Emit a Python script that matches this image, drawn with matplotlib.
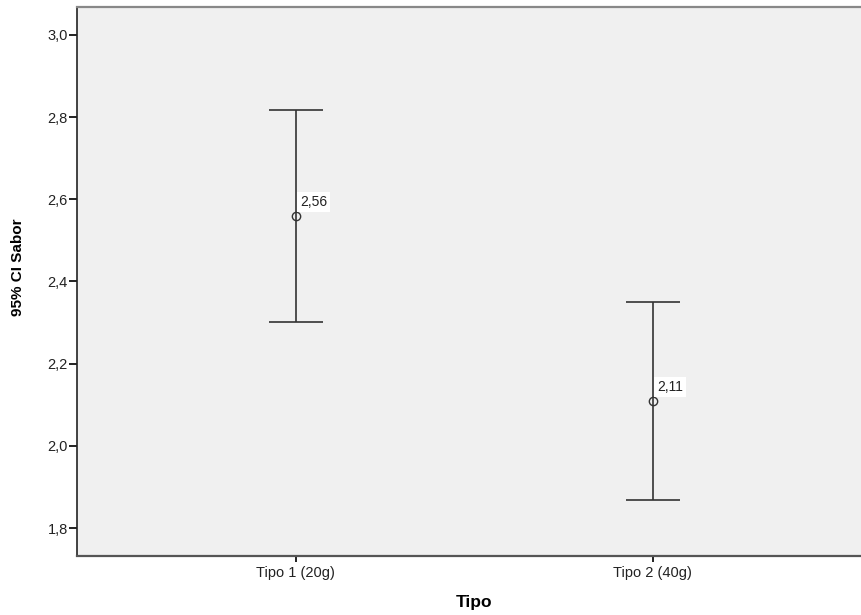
import matplotlib
matplotlib.use("Agg")
import matplotlib.pyplot as plt

plt.rcParams["font.family"] = ["Liberation Sans", "DejaVu Sans"]

categories = ["Tipo 1 (20g)", "Tipo 2 (40g)"]
means = [2.56, 2.11]
lower = [2.301, 1.868]
upper = [2.817, 2.350]
mean_labels = ["2,56", "2,11"]
yticks = [1.8, 2.0, 2.2, 2.4, 2.6, 2.8, 3.0]
ytick_labels = ["1,8", "2,0", "2,2", "2,4", "2,6", "2,8", "3,0"]

fig = plt.figure(figsize=(8.61, 6.15), dpi=100)
ax = fig.add_axes([77/861, 59/615, 784/861, 549/615])
ax.set_facecolor("#f0f0f0")

x = list(range(len(categories)))
err = [[m - l for m, l in zip(means, lower)], [u - m for m, u in zip(means, upper)]]
ax.errorbar(x, means, yerr=err, fmt="none", ecolor="#333333", elinewidth=1.2,
            capsize=19.5, capthick=1.2, zorder=2)
ax.plot(x, means, linestyle="none", marker="o", markersize=6, markerfacecolor="none",
        markeredgecolor="#333333", markeredgewidth=1.0, zorder=3)
for xi, m, lab in zip(x, means, mean_labels):
    ax.annotate(lab, (xi, m), xytext=(3, 10), textcoords="offset points", fontsize=10,
                color="#222222", ha="left", va="center",
                bbox=dict(boxstyle="square,pad=0.2", fc="white", ec="none"), zorder=4)

ax.set_xlim(-0.613, 1.583)
ax.set_ylim(1.732, 3.068)
ax.set_xticks(x)
ax.set_xticklabels(categories, fontsize=10.5, color="#222222")
ax.set_yticks(yticks)
ax.set_yticklabels(ytick_labels, fontsize=10.5, color="#222222")
ax.tick_params(axis="y", direction="out", length=6, width=1.4, color="#222222", pad=0.5)
ax.tick_params(axis="x", direction="out", length=4.5, width=1.4, color="#222222", pad=2.5)
ax.set_ylabel("95% CI Sabor", fontsize=11, fontweight="bold")
ax.yaxis.set_label_coords(-(77 - 18) / 784, (556 - 267) / 549)
ax.yaxis.label.set_va("center")
ax.set_xlabel("Tipo", fontsize=12.5, fontweight="bold")
ax.xaxis.set_label_coords((474.5 - 77) / 784, -(603 - 556) / 549)
ax.xaxis.label.set_va("center")

ax.spines["right"].set_visible(False)
ax.spines["top"].set_color("#888888")
ax.spines["top"].set_linewidth(1.6)
ax.spines["bottom"].set_color("#555555")
ax.spines["bottom"].set_linewidth(1.6)
ax.spines["left"].set_color("#222222")
ax.spines["left"].set_linewidth(1.2)

fig.savefig("out.png", dpi=100)
